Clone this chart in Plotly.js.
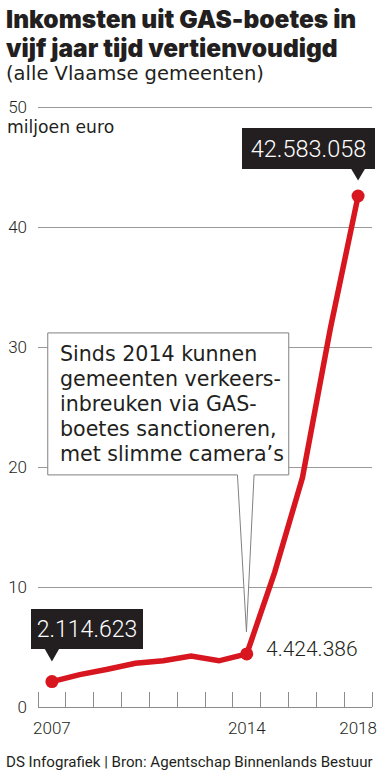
<!DOCTYPE html>
<html><head><meta charset="utf-8">
<script src="https://cdn.plot.ly/plotly-3.0.1.min.js"></script>
<style>html,body{margin:0;padding:0;background:#fff;} #chart{width:384px;height:780px;}</style>
</head><body><div id="chart"></div>
<script>
// ---- data (miljoen euro) ----
const years = [2007,2008,2009,2010,2011,2012,2013,2014,2015,2016,2017,2018];
const revenue = [2.114623,2.70,3.15,3.65,3.85,4.25,3.85,4.424386,11.2,19.1,31.5,42.583058];
const highlightYears = [2007,2014,2018];
const yTicks = [0,10,20,30,40,50];
const xTickVals = [2007,2014,2018];
const xTickLabels = ['2007','2014','2018'];
const titleLines = ['Inkomsten uit GAS-boetes in','vijf jaar tijd vertienvoudigd'];
const subtitle = '(alle Vlaamse gemeenten)';
const unitLabel = 'miljoen euro';
const calloutLines = ['Sinds 2014 kunnen','gemeenten verkeers-','inbreuken via GAS-','boetes sanctioneren,','met slimme camera’s'];
const footer = 'DS Infografiek | Bron: Agentschap Binnenlands Bestuur';

// ---- styling ----
const RED = '#d7161f', INK = '#231f20', GRID = '#9a9a9a';
const FONT = 'Roboto, "Noto Sans", sans-serif';
const FONT_TITLE = 'Inter, "Open Sans", sans-serif';
const FONT_BODY = '"DejaVu Sans", "Open Sans", sans-serif';
const W = 384, H = 780, M = {l:38, r:12, t:83, b:73};
const PW = W - M.l - M.r, PH = H - M.t - M.b;
const px2x = p => (p - M.l) / PW;
const px2y = p => (H - M.b - p) / PH;
const fmt = v => Math.round(v * 1e6).toString().replace(/\B(?=(\d{3})+(?!\d))/g, '.');
const valAt = yr => revenue[years.indexOf(yr)];

const first = highlightYears[0], mid = highlightYears[1], last = highlightYears[2];

const trace = {
  x: years, y: revenue, type: 'scatter', mode: 'lines+markers',
  line: {color: RED, width: 5.5},
  marker: {color: RED, opacity: 1, line: {width: 0},
           size: years.map(y => highlightYears.includes(y) ? 13 : 0)},
  hoverinfo: 'skip', cliponaxis: false
};

const minorVals = years.map(y => y - 0.5).concat([years[years.length-1] + 0.5]);

const paperText = (text, px, py, font) => ({xref:'paper', yref:'paper', x:px2x(px), y:px2y(py),
  xanchor:'left', yanchor:'middle', showarrow:false, text:text, font:font});

const annotations = [
  paperText(titleLines[0], 4, 18.5, {family:FONT_TITLE, size:24.5, color:INK, weight:900}),
  paperText(titleLines[1], 4, 47.5, {family:FONT_TITLE, size:24.5, color:INK, weight:900}),
  paperText(subtitle, 4, 73.5, {family:FONT_BODY, size:19.5, color:INK, weight:400}),
  paperText(unitLabel, 5, 127, {family:FONT_BODY, size:17.2, color:INK, weight:400}),
  paperText(footer, 4, 762, {family:FONT, size:15.1, color:INK, weight:400}),
  // value boxes
  {xref:'x', yref:'y', x:first, y:valAt(first), xshift:35, yshift:53, xanchor:'center', yanchor:'middle',
   showarrow:false, text:fmt(valAt(first)), width:112, height:40, bgcolor:INK, borderpad:0, borderwidth:0,
   font:{family:FONT, size:23, color:'#ffffff', weight:300}},
  {xref:'x', yref:'y', x:last, y:valAt(last), xshift:-50, yshift:48, xanchor:'center', yanchor:'middle',
   showarrow:false, text:fmt(valAt(last)), width:133, height:41, bgcolor:INK, borderpad:0, borderwidth:0,
   font:{family:FONT, size:23.5, color:'#ffffff', weight:300}},
  {xref:'x', yref:'y', x:mid, y:valAt(mid), xshift:17, yshift:5, xanchor:'left', yanchor:'middle',
   showarrow:false, text:fmt(valAt(mid)), font:{family:FONT, size:21, color:INK, weight:300}}
];
// callout text, one annotation per line (25 px line pitch)
calloutLines.forEach((line, i) => annotations.push({
  xref:'x', yref:'y', x:mid, y:valAt(mid), xshift:-189, yshift:300 - 25*i, xanchor:'left', yanchor:'middle',
  showarrow:false, text:line, font:{family:FONT_BODY, size:20.6, color:INK, weight:400}
}));

const shapes = [
  {type:'path', xref:'x', yref:'y', xsizemode:'pixel', ysizemode:'pixel', xanchor:first, yanchor:valAt(first),
   path:'M-8,34 L8,34 L0,20 Z', fillcolor:INK, line:{width:0}, layer:'above'},
  {type:'path', xref:'x', yref:'y', xsizemode:'pixel', ysizemode:'pixel', xanchor:last, yanchor:valAt(last),
   path:'M-8,29 L8,29 L0,15.5 Z', fillcolor:INK, line:{width:0}, layer:'above'},
  {type:'path', xref:'x', yref:'y', xsizemode:'pixel', ysizemode:'pixel', xanchor:mid, yanchor:valAt(mid),
   path:'M-199,179 L-199,321 L42,321 L42,179 L7.3,179 L-0.3,22 L-9.3,179 Z',
   fillcolor:'#ffffff', line:{color:'#808080', width:1}, layer:'above'}
];

const layout = {
  width: W, height: H, margin: M, showlegend: false,
  paper_bgcolor: '#ffffff', plot_bgcolor: '#ffffff',
  font: {family: FONT, color: INK},
  xaxis: {range:[years[0]-0.5, years[years.length-1]+0.5], tickmode:'array', tickvals:xTickVals, ticktext:xTickLabels,
    ticks:'', showgrid:false, zeroline:false, showline:true, linecolor:'#8c8c8c', linewidth:1,
    tickfont:{family:FONT, size:17, color:INK, weight:300}, ticklabelstandoff:6,
    minor:{tickmode:'array', tickvals:minorVals, ticks:'inside', ticklen:15, tickcolor:'#8c8c8c', tickwidth:1, showgrid:false},
    fixedrange:true},
  yaxis: {range:[0,52], tickmode:'array', tickvals:yTicks, ticks:'', showgrid:true, gridcolor:GRID, gridwidth:1,
    zeroline:false, showline:false, tickfont:{family:FONT, size:17, color:INK, weight:300}, ticklabelstandoff:10,
    fixedrange:true},
  annotations: annotations,
  shapes: shapes
};

Plotly.newPlot('chart', [trace], layout, {displayModeBar:false, staticPlot:true});
</script>
</body></html>
